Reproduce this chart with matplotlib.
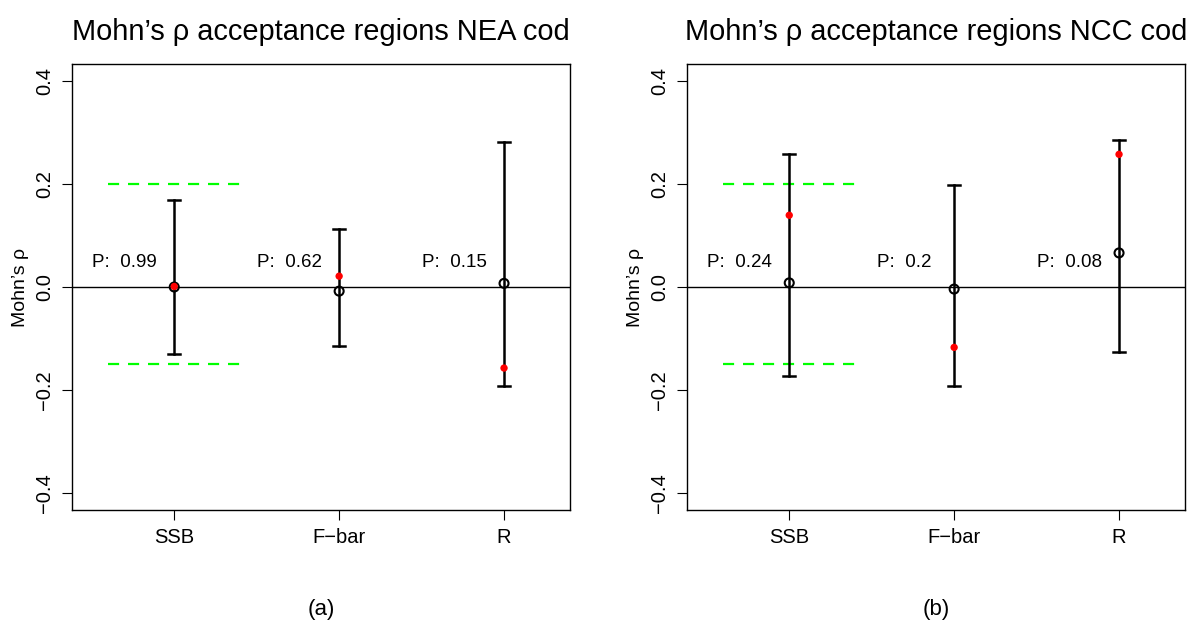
import matplotlib
matplotlib.use("Agg")
import matplotlib.pyplot as plt

plt.rcParams['font.family'] = ['Liberation Sans', 'DejaVu Sans']

# data
categories = ["SSB", "F\u2212bar", "R"]
titles = ["Mohn\u2019s \u03c1 acceptance regions NEA cod",
          "Mohn\u2019s \u03c1 acceptance regions NCC cod"]
captions = ["(a)", "(b)"]

nea_lower = [-0.130, -0.114, -0.192]
nea_upper = [0.168, 0.112, 0.281]
nea_black = [0.000, -0.008, 0.007]
nea_red = [0.001, 0.021, -0.157]
nea_p = ["0.99", "0.62", "0.15"]

ncc_lower = [-0.172, -0.191, -0.126]
ncc_upper = [0.257, 0.197, 0.285]
ncc_black = [0.008, -0.004, 0.066]
ncc_red = [0.139, -0.117, 0.257]
ncc_p = ["0.24", "0.2", "0.08"]

# acceptance region for SSB
accept_lo = -0.15
accept_hi = 0.2

panels = [
    (nea_lower, nea_upper, nea_black, nea_red, nea_p),
    (ncc_lower, ncc_upper, ncc_black, ncc_red, ncc_p),
]

fig = plt.figure(figsize=(11.89, 6.35), dpi=100)
lefts = [72 / 1189, 687 / 1189]
w = 498 / 1189
b = 1 - 510 / 635
h = 446 / 635

for k, (lo, hi, blk, red, pv) in enumerate(panels):
    ax = fig.add_axes([lefts[k], b, w, h])
    xs = [1, 2, 3]
    ax.axhline(0, color="black", lw=1.0, zorder=1)
    ax.plot([0.6, 1.4], [accept_hi, accept_hi], color="#00ff00", lw=1.6,
            dashes=(5, 4), zorder=2)
    ax.plot([0.6, 1.4], [accept_lo, accept_lo], color="#00ff00", lw=1.6,
            dashes=(5, 4), zorder=2)
    for i in range(3):
        ax.plot([xs[i], xs[i]], [lo[i], hi[i]], color="black", lw=1.8, zorder=3)
        for yy in (lo[i], hi[i]):
            ax.plot([xs[i] - 0.036, xs[i] + 0.036], [yy, yy], color="black",
                    lw=1.8, zorder=3)
        ax.text(xs[i] - 0.3, 0.048, "P:  " + pv[i], ha="center", va="center",
                fontsize=13.5)
    ax.scatter(xs, blk, s=42, facecolors="none", edgecolors="black",
               linewidths=1.5, zorder=4)
    ax.scatter(xs, red, s=28, color="red", edgecolors="none", zorder=5)

    ax.set_xlim(0.38, 3.40)
    ax.set_ylim(-0.432, 0.432)
    ax.set_xticks(xs)
    ax.set_xticklabels(categories, fontsize=14.5)
    ax.set_yticks([-0.4, -0.2, 0.0, 0.2, 0.4])
    ax.set_yticklabels(["\u22120.4", "\u22120.2", "0.0", "0.2", "0.4"],
                       fontsize=14.5, rotation=90, va="center")
    ax.tick_params(length=7, width=0.8, pad=6)
    for sp in ax.spines.values():
        sp.set_linewidth(1.0)
    ax.set_ylabel("Mohn\u2019s \u03c1", fontsize=14, labelpad=4)
    ax.set_title(titles[k], fontsize=20.9, pad=17)
    ax.text(0.5, -0.222, captions[k], transform=ax.transAxes, ha="center",
            va="center", fontsize=16)

fig.savefig("out.png", dpi=100)
